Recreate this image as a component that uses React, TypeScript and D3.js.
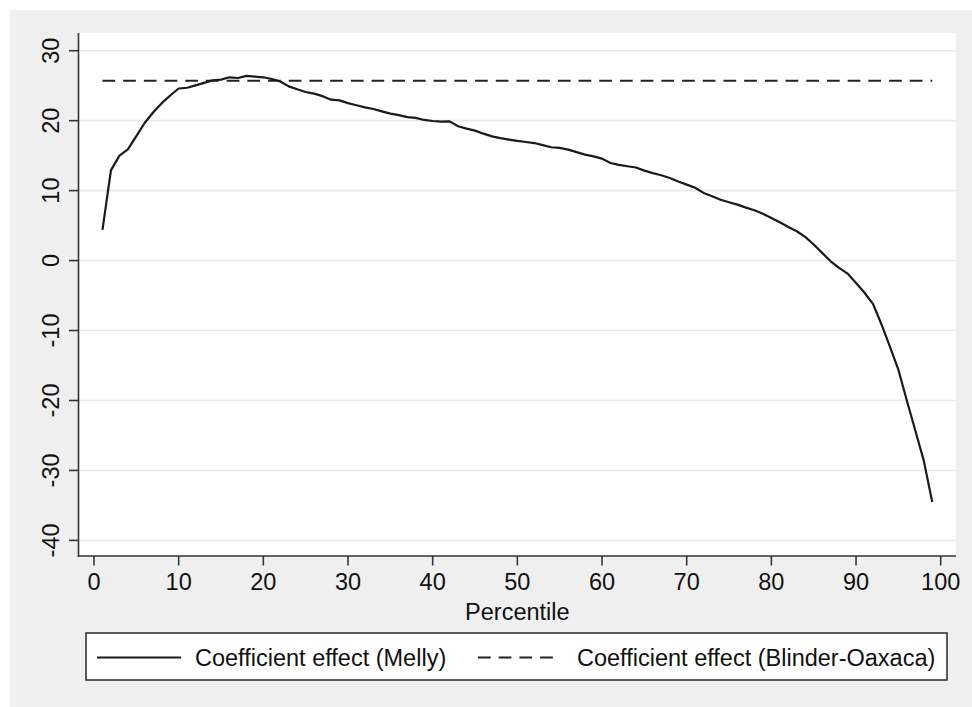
import React from "react";
import * as d3 from "d3";

// percentiles 1..99 and the Melly coefficient effect
const percentiles = d3.range(1, 100);
const mellyEffect = [
  4.4, 12.9, 15.0, 15.9, 17.8, 19.7, 21.2, 22.5, 23.6, 24.6,
  24.7, 25.05, 25.4, 25.76, 25.86, 26.2, 26.1, 26.4, 26.3, 26.2,
  25.95, 25.6, 24.9, 24.5, 24.1, 23.86, 23.5, 23.0, 22.9, 22.5,
  22.2, 21.9, 21.67, 21.33, 21.0, 20.8, 20.5, 20.4, 20.1, 19.95,
  19.86, 19.9, 19.2, 18.86, 18.57, 18.14, 17.76, 17.5, 17.3, 17.1,
  16.95, 16.8, 16.5, 16.2, 16.1, 15.86, 15.5, 15.14, 14.9, 14.57,
  13.95, 13.67, 13.48, 13.3, 12.86, 12.5, 12.2, 11.8, 11.3, 10.86,
  10.4, 9.67, 9.2, 8.7, 8.33, 8.0, 7.57, 7.2, 6.7, 6.1,
  5.48, 4.8, 4.19, 3.38, 2.29, 1.1, -0.1, -1.05, -1.86, -3.2,
  -4.6, -6.2, -9.1, -12.3, -15.6, -20.0, -24.3, -28.6, -34.5,
];
const blinderOaxaca = 25.7;

const xTicks = [0, 10, 20, 30, 40, 50, 60, 70, 80, 90, 100];
const yTicks = [-40, -30, -20, -10, 0, 10, 20, 30];
const legendLabels = ["Coefficient effect (Melly)", "Coefficient effect (Blinder-Oaxaca)"];

const W = 972;
const H = 707;
const font = "'Liberation Sans', Arial, Helvetica, sans-serif";
const fs = 23.5;
const ink = "#333333";

export default function App() {
  // plot region
  const plot = { left: 79, right: 956, top: 33, bottom: 556 };

  const x = d3.scaleLinear().domain([0, 100]).range([94, 940.7]);
  const y = d3.scaleLinear().domain([-40, 30]).range([540.4, 50.7]);

  const line = d3
    .line<number>()
    .x((d, i) => x(percentiles[i]))
    .y((d) => y(d));

  return (
    <>
      <style>{`body{margin:0}`}</style>
      <svg width={W} height={H} style={{ display: "block", fontFamily: font }}>
        <rect x={0} y={0} width={W} height={H} fill="#ffffff" />
        <rect x={10} y={10} width={W - 10} height={H - 10} fill="#efefef" />
        <rect
          x={plot.left}
          y={plot.top}
          width={plot.right - plot.left}
          height={plot.bottom - plot.top}
          fill="#ffffff"
        />

        {/* gridlines */}
        {yTicks.map((t) => (
          <line
            key={"g" + t}
            x1={plot.left}
            x2={plot.right}
            y1={y(t)}
            y2={y(t)}
            stroke="#eaeaea"
            strokeWidth={1.6}
          />
        ))}

        {/* y axis */}
        <line x1={78.5} x2={78.5} y1={plot.top} y2={plot.bottom + 0.8} stroke={ink} strokeWidth={1.6} />
        {yTicks.map((t) => (
          <g key={"y" + t}>
            <line x1={69} x2={78.5} y1={y(t)} y2={y(t)} stroke={ink} strokeWidth={1.6} />
            <text
              transform={`translate(58.5,${y(t)}) rotate(-90)`}
              textAnchor="middle"
              fontSize={fs}
              fill="#111"
            >
              {t}
            </text>
          </g>
        ))}

        {/* x axis */}
        <line x1={77.7} x2={plot.right} y1={556} y2={556} stroke={ink} strokeWidth={1.6} />
        {xTicks.map((t) => (
          <g key={"x" + t}>
            <line x1={x(t)} x2={x(t)} y1={556} y2={565.5} stroke={ink} strokeWidth={1.6} />
            <text x={x(t)} y={589.5} textAnchor="middle" fontSize={fs} fill="#111">
              {t}
            </text>
          </g>
        ))}
        <text x={x(50)} y={619.5} textAnchor="middle" fontSize={fs} fill="#111">
          Percentile
        </text>

        {/* series */}
        <line
          x1={x(1)}
          x2={x(99)}
          y1={y(blinderOaxaca)}
          y2={y(blinderOaxaca)}
          stroke="#222"
          strokeWidth={2}
          strokeDasharray="12.7 8"
        />
        <path d={line(mellyEffect) ?? ""} fill="none" stroke="#1a1a1a" strokeWidth={2.2} strokeLinejoin="round" />

        {/* legend */}
        <rect x={86} y={633} width={861} height={47} fill="#ffffff" stroke={ink} strokeWidth={1.6} />
        <line x1={97} x2={181} y1={657.5} y2={657.5} stroke="#1a1a1a" strokeWidth={2.2} />
        <text x={195} y={665.5} fontSize={fs} fill="#111">
          {legendLabels[0]}
        </text>
        <line x1={478} x2={555} y1={657.5} y2={657.5} stroke="#222" strokeWidth={2} strokeDasharray="12.7 8" />
        <text x={577} y={665.5} fontSize={fs} fill="#111">
          {legendLabels[1]}
        </text>
      </svg>
    </>
  );
}
